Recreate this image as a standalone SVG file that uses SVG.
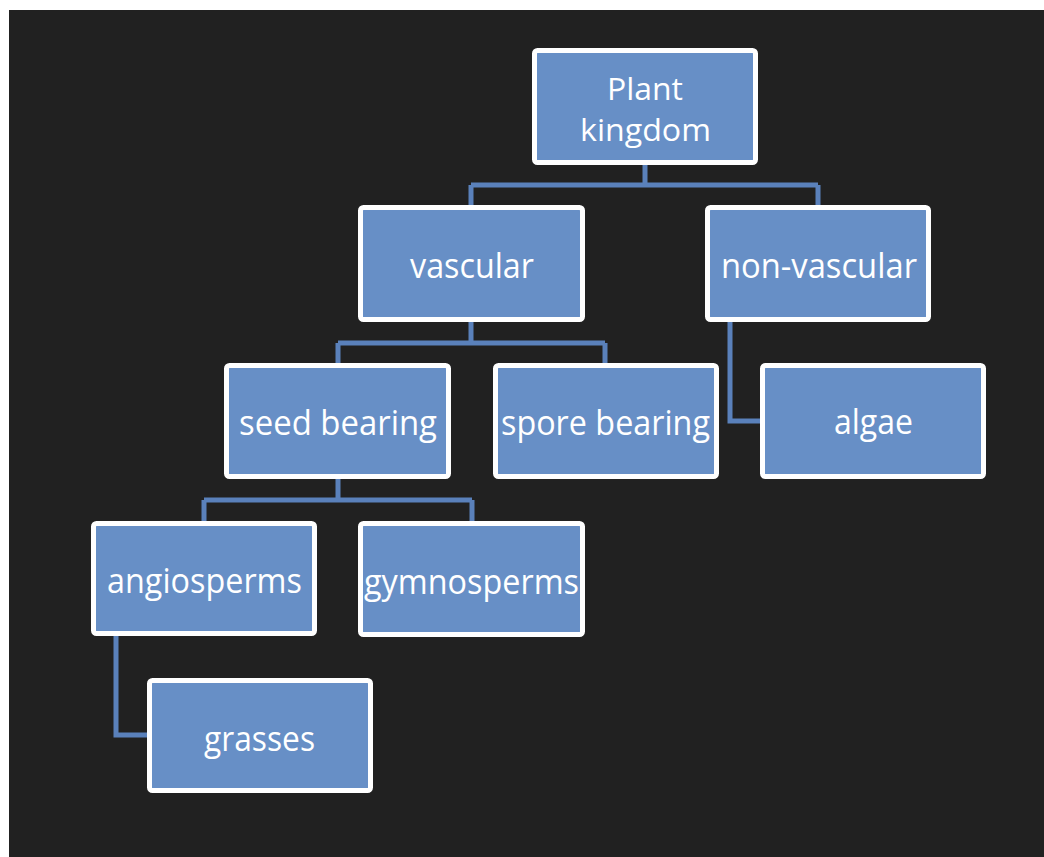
<svg xmlns="http://www.w3.org/2000/svg" width="1044" height="857" viewBox="0 0 1044 857">
  <style>
    .box { fill: #678fc6; stroke: #ffffff; stroke-width: 5; }
    .lbl { font-family: "Open Sans", "Noto Sans", "DejaVu Sans", sans-serif; font-size: 34px; fill: #ffffff; text-anchor: middle; }
    .two { font-size: 31px; }
    .conn { fill: none; stroke: #5a81bb; stroke-width: 5; }
  </style>
  <rect x="0" y="0" width="1044" height="857" fill="#ffffff"/>
  <rect x="9" y="10" width="1035" height="847" fill="#212121"/>

  <g id="connectors">
    <path class="conn" d="M645,165 V185 M471,185 H818 M471,185 V205 M818,185 V205"/>
    <path class="conn" d="M471,322 V343 M338,343 H605 M338,343 V363 M605,343 V363"/>
    <path class="conn" d="M338,479 V500 M204,500 H472 M204,500 V521 M472,500 V521"/>
    <path class="conn" d="M730,322 V421 H760"/>
    <path class="conn" d="M116,636 V735 H147"/>
  </g>

  <g id="plant-kingdom">
    <rect class="box" x="534.5" y="50.5" width="221" height="112" rx="3"/>
    <text class="lbl two" x="645" y="100" textLength="76" lengthAdjust="spacingAndGlyphs">Plant</text>
    <text class="lbl two" x="645.5" y="141" textLength="131" lengthAdjust="spacingAndGlyphs">kingdom</text>
  </g>

  <g id="vascular">
    <rect class="box" x="360.5" y="207.5" width="222" height="112" rx="3"/>
    <text class="lbl" x="472" y="278" textLength="124" lengthAdjust="spacingAndGlyphs">vascular</text>
  </g>

  <g id="non-vascular">
    <rect class="box" x="707.5" y="207.5" width="221" height="112" rx="3"/>
    <text class="lbl" x="819" y="278" textLength="196" lengthAdjust="spacingAndGlyphs">non-vascular</text>
  </g>

  <g id="seed-bearing">
    <rect class="box" x="226.5" y="365.5" width="222" height="111" rx="3"/>
    <text class="lbl" x="338" y="435" textLength="198" lengthAdjust="spacingAndGlyphs">seed bearing</text>
  </g>

  <g id="spore-bearing">
    <rect class="box" x="495.5" y="365.5" width="221" height="111" rx="3"/>
    <text class="lbl" x="605.5" y="435" textLength="209" lengthAdjust="spacingAndGlyphs">spore bearing</text>
  </g>

  <g id="algae">
    <rect class="box" x="762.5" y="365.5" width="221" height="111" rx="3"/>
    <text class="lbl" x="873.5" y="434" textLength="79" lengthAdjust="spacingAndGlyphs">algae</text>
  </g>

  <g id="angiosperms">
    <rect class="box" x="93.5" y="523.5" width="221" height="110" rx="3"/>
    <text class="lbl" x="204.5" y="593" textLength="195" lengthAdjust="spacingAndGlyphs">angiosperms</text>
  </g>

  <g id="gymnosperms">
    <rect class="box" x="360.5" y="523.5" width="222" height="111" rx="3"/>
    <text class="lbl" x="471.5" y="594" textLength="215" lengthAdjust="spacingAndGlyphs">gymnosperms</text>
  </g>

  <g id="grasses">
    <rect class="box" x="149.5" y="680.5" width="221" height="110" rx="3"/>
    <text class="lbl" x="259.5" y="751" textLength="111" lengthAdjust="spacingAndGlyphs">grasses</text>
  </g>
</svg>
